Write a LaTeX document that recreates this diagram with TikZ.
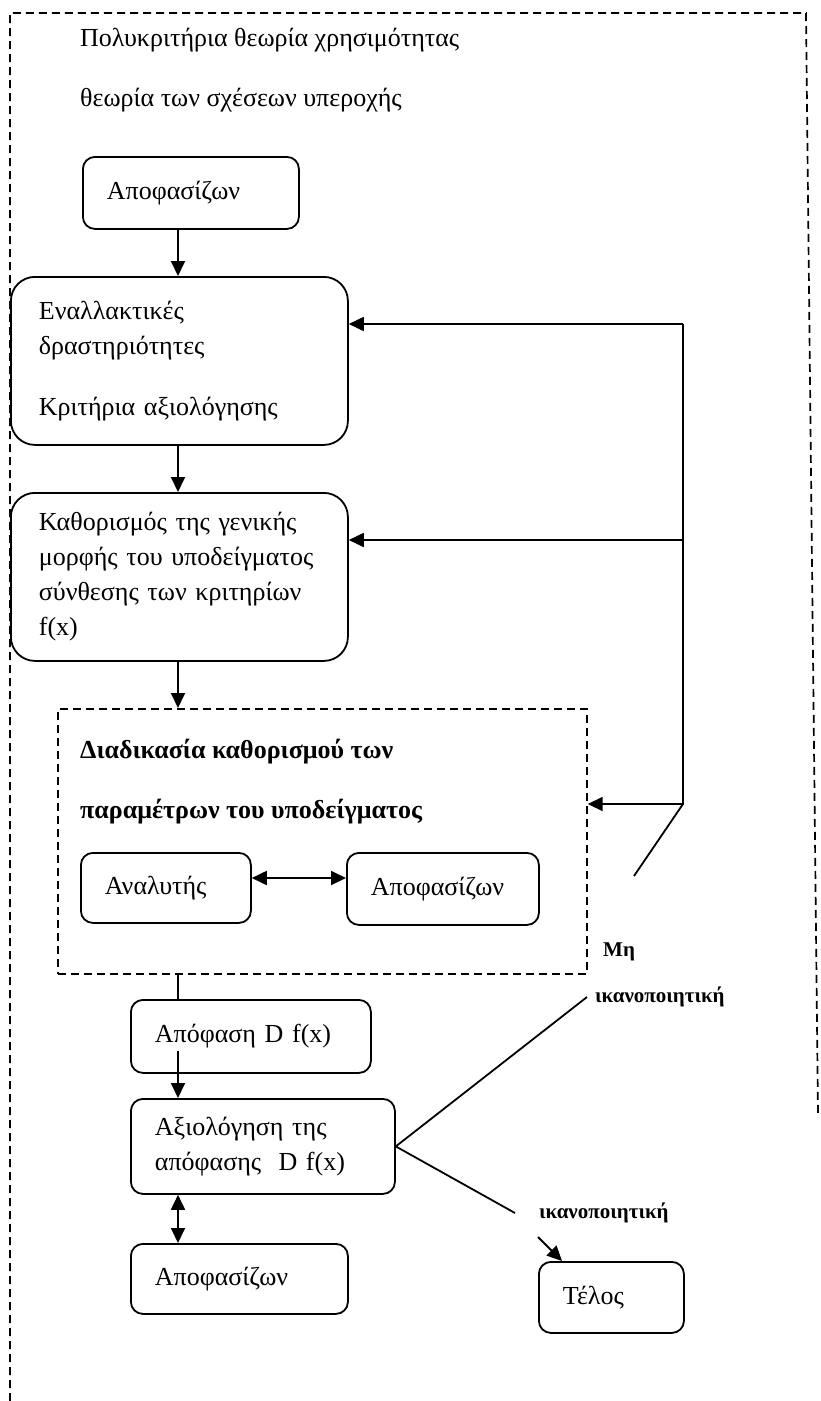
\documentclass[tikz,border=0pt]{standalone}
\usepackage{fontspec}
\setmainfont{Liberation Serif}
\usetikzlibrary{arrows.meta,calc}
\begin{document}
\begin{tikzpicture}[x=1pt,y=-1pt,
  every node/.style={font=\fontsize{26}{35}\selectfont},
  box/.style={draw, line width=1.8pt, rounded corners=12pt, inner xsep=24pt, inner ysep=0pt, align=left, anchor=north west},
  bigbox/.style={box, rounded corners=24pt, inner xsep=28pt},
  txt/.style={anchor=west, inner sep=0pt},
  btxt/.style={txt, font=\fontsize{26}{35}\selectfont\bfseries},
  lbl/.style={txt, font=\fontsize{21}{25}\selectfont\bfseries},
  conn/.style={line width=1.8pt},
  arr/.style={conn, -{Triangle[length=15pt,width=14pt]}},
  dbl/.style={conn, {Triangle[length=15pt,width=14pt]}-{Triangle[length=15pt,width=14pt]}},
  dashline/.style={line width=1.7pt, dash pattern=on 8pt off 5pt},
]
\useasboundingbox (0,0) rectangle (821,1401);

% outer dashed frame
\draw[dashline] (10,1401) -- (10,13) -- (806,13) -- (818,1115);

% titles
\node[txt] (t1) at (80,40) {Πολυκριτήρια θεωρία χρησιμότητας};
\node[txt] (t2) at (80,100) {θεωρία των σχέσεων υπεροχής};

% boxes
\node[box, text width=168pt, minimum height=72pt] (A) at (82,156) {Αποφασίζων};
\node[bigbox, text width=281pt, minimum height=168pt] (B) at (10,276)
  {Εναλλακτικές\\δραστηριότητες\\[26pt]Κριτήρια αξιολόγησης};
\node[bigbox, text width=281pt, minimum height=168pt] (C) at (10,492)
  {\mbox{Καθορισμός της γενικής}\\\mbox{μορφής του υποδείγματος}\\\mbox{σύνθεσης των κριτηρίων}\\f(x)};

% inner dashed box
\node[draw, dashline, anchor=north west, minimum width=529pt, minimum height=265pt, inner sep=0pt] (P) at (57,708) {};
\node[btxt] (P1) at (80,752) {Διαδικασία καθορισμού των};
\node[btxt] (P2) at (80,812) {παραμέτρων του υποδείγματος};
\node[box, text width=122pt, minimum height=70pt] (An) at (80,852) {Αναλυτής};
\node[box, text width=144pt, minimum height=72pt] (Ap) at (346,852) {Αποφασίζων};

\node[box, text width=192pt, minimum height=73pt] (D) at (130,999) {Απόφαση D f(x)};
\node[box, text width=216pt, minimum height=95pt] (E) at (130,1098) {Αξιολόγηση της\\απόφασης~~D f(x)};
\node[box, text width=169pt, minimum height=70pt] (F) at (130,1243) {Αποφασίζων};
\node[box, text width=97pt, minimum height=71pt] (T) at (538,1261) {Τέλος};

% labels
\node[lbl] (L1) at (603,952) {Μη};
\node[lbl] (L2) at (595,997) {ικανοποιητική};
\node[lbl] (L3) at (539,1213) {ικανοποιητική};

% helper coordinates
\coordinate (col) at (178,0);
\coordinate (dy) at (0,878);
\coordinate (fb1) at (683,324);
\coordinate (fb2) at (683,540);
\coordinate (fb3) at (683,804);
\coordinate (fbend) at (634,876);
\coordinate (up) at (587,997);
\coordinate (down) at (515,1213);
\coordinate (ts) at (538,1237);

% main flow
\draw[arr] (A.south -| col) -- (B.north -| col);
\draw[arr] (B.south -| col) -- (C.north -| col);
\draw[arr] (C.south -| col) -- (P.north -| col);
\draw[conn] (P.south -| col) -- (D.north -| col);
\draw[arr] ($(D.center -| col)+(0,15)$) -- (E.north -| col);
\draw[dbl] (E.south -| col) -- (F.north -| col);
\draw[dbl] (An.east |- dy) -- (Ap.west |- dy);

% feedback
\draw[conn] (fb1) -- (fb3) -- (fbend);
\draw[arr] (fb1) -- (B.east |- fb1);
\draw[arr] (fb2) -- (C.east |- fb2);
\draw[arr] (fb3) -- (P.east |- fb3);

% decision branches
\draw[conn] (up) -- (E.east) -- (down);
\draw[arr] (ts) -- ($(T.north west)+(24,0)$);
\end{tikzpicture}
\end{document}
